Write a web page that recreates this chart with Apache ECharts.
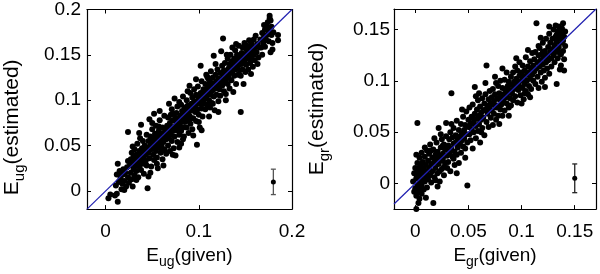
<!DOCTYPE html>
<html><head><meta charset="utf-8">
<script src="https://cdn.jsdelivr.net/npm/echarts@6/dist/echarts.min.js"></script>
<style>html,body{margin:0;padding:0;background:#fff}#c{width:600px;height:274px}</style>
</head><body><div id="c"></div>
<script>
// ---------- DATA ----------
const leftData = [
[0.003,-0.008],[0.005,-0.004],[0.010,-0.005],[0.013,-0.012],[0.012,-0.003],[0.011,0.006],[0.014,0.010],[0.013,0.030],[0.015,0.022],[0.016,0.014],[0.017,0.002],[0.018,0.008],[0.019,0.018],[0.020,0.011],[0.021,0.020],[0.022,0.005],[0.023,0.026],[0.024,0.015],[0.016,0.018],[0.019,0.024],[0.012,0.018],[0.020,0.001],[0.024,0.033],[0.025,0.009],
[0.026,0.028],[0.027,0.020],[0.027,0.035],[0.028,0.042],[0.028,0.013],[0.029,0.030],[0.029,0.005],[0.030,0.038],[0.030,0.024],[0.031,0.046],[0.031,0.017],[0.032,0.033],[0.032,0.028],[0.033,0.040],[0.033,0.022],[0.034,0.052],[0.034,0.031],[0.035,0.036],[0.035,0.015],[0.036,0.044],[0.036,0.027],[0.037,0.039],[0.037,0.058],[0.038,0.033],[0.038,0.023],[0.039,0.047],[0.039,0.041],[0.040,0.030],[0.040,0.055],[0.041,0.036],[0.041,0.019],[0.042,0.045],[0.042,0.050],[0.043,0.033],[0.043,0.040],[0.044,0.062],[0.044,0.028],[0.045,0.048],[0.045,0.003],[0.046,0.016],[0.024,0.065],[0.038,0.073],[0.033,0.012],[0.036,0.064],[0.029,0.049],
[0.046,0.055],[0.046,0.042],[0.047,0.079],[0.047,0.036],[0.048,0.050],[0.048,0.060],[0.049,0.046],[0.049,0.027],[0.050,0.053],[0.050,0.068],[0.051,0.040],[0.051,0.058],[0.052,0.049],[0.052,0.034],[0.053,0.063],[0.053,0.055],[0.054,0.044],[0.054,0.072],[0.055,0.051],[0.055,0.037],[0.056,0.060],[0.056,0.025],[0.057,0.066],[0.057,0.048],[0.058,0.055],[0.058,0.078],[0.059,0.042],[0.059,0.062],[0.060,0.058],[0.060,0.050],[0.061,0.070],[0.061,0.035],[0.062,0.064],[0.062,0.054],[0.063,0.046],[0.063,0.083],[0.064,0.060],[0.064,0.068],[0.065,0.041],[0.065,0.057],[0.050,0.075],[0.055,0.030],[0.058,0.088],[0.062,0.028],[0.048,0.020],[0.052,0.085],[0.060,0.044],[0.057,0.071],
[0.066,0.072],[0.066,0.063],[0.067,0.050],[0.067,0.081],[0.068,0.067],[0.068,0.058],[0.069,0.075],[0.069,0.044],[0.070,0.070],[0.070,0.062],[0.071,0.090],[0.071,0.055],[0.072,0.078],[0.072,0.066],[0.073,0.047],[0.073,0.085],[0.074,0.071],[0.074,0.060],[0.075,0.080],[0.075,0.039],[0.076,0.074],[0.076,0.067],[0.077,0.093],[0.077,0.054],[0.078,0.079],[0.078,0.071],[0.079,0.062],[0.079,0.098],[0.080,0.083],[0.080,0.075],[0.081,0.066],[0.081,0.052],[0.082,0.088],[0.082,0.079],[0.083,0.070],[0.083,0.104],[0.084,0.084],[0.084,0.060],[0.085,0.092],[0.085,0.076],[0.068,0.096],[0.074,0.102],[0.079,0.048],[0.083,0.057],[0.070,0.084],[0.076,0.086],[0.081,0.095],[0.072,0.040],
[0.086,0.088],[0.086,0.081],[0.087,0.070],[0.087,0.100],[0.088,0.086],[0.088,0.094],[0.089,0.077],[0.089,0.064],[0.090,0.092],[0.090,0.083],[0.091,0.108],[0.091,0.074],[0.092,0.096],[0.092,0.089],[0.093,0.068],[0.093,0.103],[0.094,0.092],[0.094,0.080],[0.095,0.099],[0.095,0.112],[0.096,0.087],[0.096,0.094],[0.097,0.077],[0.097,0.106],[0.098,0.098],[0.098,0.051],[0.099,0.090],[0.099,0.115],[0.100,0.102],[0.100,0.084],[0.101,0.096],[0.101,0.070],[0.102,0.108],[0.102,0.100],[0.103,0.091],[0.103,0.121],[0.104,0.104],[0.104,0.082],[0.105,0.112],[0.105,0.096],[0.088,0.110],[0.094,0.061],[0.097,0.123],[0.100,0.076],[0.090,0.116],[0.103,0.067],[0.092,0.080],[0.099,0.104],
[0.106,0.108],[0.106,0.101],[0.107,0.118],[0.107,0.090],[0.108,0.112],[0.108,0.104],[0.109,0.095],[0.109,0.126],[0.110,0.109],[0.110,0.117],[0.111,0.100],[0.111,0.082],[0.112,0.114],[0.112,0.121],[0.113,0.106],[0.113,0.132],[0.114,0.118],[0.114,0.097],[0.115,0.111],[0.115,0.125],[0.116,0.149],[0.116,0.104],[0.117,0.119],[0.117,0.089],[0.118,0.113],[0.118,0.128],[0.119,0.121],[0.119,0.106],[0.120,0.116],[0.120,0.134],[0.121,0.124],[0.121,0.099],[0.122,0.119],[0.122,0.112],[0.123,0.130],[0.123,0.105],[0.124,0.154],[0.124,0.122],[0.125,0.116],[0.125,0.138],[0.108,0.128],[0.112,0.092],[0.118,0.140],[0.121,0.087],[0.110,0.124],[0.115,0.096],[0.102,0.138],[0.126,0.168],
[0.126,0.127],[0.126,0.119],[0.127,0.133],[0.127,0.110],[0.128,0.126],[0.128,0.141],[0.129,0.107],[0.129,0.122],[0.130,0.132],[0.130,0.128],[0.131,0.118],[0.131,0.146],[0.132,0.135],[0.132,0.125],[0.133,0.140],[0.133,0.113],[0.134,0.130],[0.134,0.150],[0.135,0.137],[0.135,0.122],[0.136,0.143],[0.136,0.131],[0.137,0.109],[0.137,0.139],[0.138,0.146],[0.138,0.127],[0.139,0.134],[0.139,0.155],[0.140,0.141],[0.140,0.118],[0.141,0.136],[0.141,0.150],[0.142,0.128],[0.142,0.145],[0.143,0.139],[0.143,0.160],[0.144,0.133],[0.144,0.147],[0.145,0.127],[0.145,0.087],[0.130,0.150],[0.136,0.158],[0.140,0.162],[0.129,0.100],[0.145,0.142],
[0.146,0.152],[0.146,0.140],[0.147,0.158],[0.147,0.134],[0.148,0.118],[0.148,0.148],[0.149,0.143],[0.149,0.163],[0.150,0.150],[0.150,0.131],[0.151,0.156],[0.151,0.139],[0.152,0.146],[0.152,0.160],[0.153,0.134],[0.153,0.153],[0.154,0.148],[0.154,0.166],[0.155,0.141],[0.155,0.157],[0.156,0.150],[0.156,0.129],[0.157,0.162],[0.157,0.145],[0.158,0.155],[0.158,0.137],[0.159,0.167],[0.159,0.150],[0.160,0.158],[0.160,0.144],[0.161,0.171],[0.162,0.153],[0.163,0.162],[0.164,0.147],[0.165,0.158],[0.163,0.140],
[0.166,0.167],[0.167,0.158],[0.168,0.174],[0.168,0.150],[0.169,0.163],[0.170,0.170],[0.171,0.178],[0.171,0.159],[0.172,0.167],[0.173,0.181],[0.173,0.172],[0.174,0.186],[0.175,0.176],[0.175,0.165],[0.176,0.190],[0.177,0.188],[0.177,0.153],[0.178,0.181],[0.178,0.172],[0.179,0.163],[0.180,0.175],[0.185,0.172],[0.185,0.166],[0.176,0.193],[0.170,0.183],[0.179,0.156]
];
const rightData = [
[-0.002,0.002],[-0.001,0.010],[0.000,-0.005],[0.000,0.015],[0.001,0.005],[0.001,-0.012],[0.001,-0.025],[0.002,0.020],[0.002,-0.002],[0.002,0.059],[0.003,0.008],[0.003,-0.008],[0.003,0.013],[0.004,0.001],[0.004,-0.015],[0.004,0.025],[0.005,0.006],[0.005,-0.004],[0.005,0.017],[0.006,0.011],[0.006,-0.010],[0.006,0.030],[0.007,0.003],[0.007,0.021],[0.008,0.009],[0.008,-0.006],[0.008,0.014],[0.009,0.026],[0.009,0.002],[0.010,0.018],[0.010,0.007],[0.010,-0.014],[0.011,0.012],[0.011,0.032],[0.012,0.022],[0.012,0.004],[0.001,0.028],[-0.001,-0.008],[0.003,-0.019],[0.006,-0.002],[0.009,0.035],[0.007,0.014],[0.004,0.009],[0.011,-0.004],[0.002,0.014],
[0.013,0.015],[0.013,0.029],[0.014,0.008],[0.014,0.038],[0.015,0.019],[0.015,0.001],[0.016,0.025],[0.016,0.012],[0.017,-0.019],[0.017,0.033],[0.018,0.021],[0.018,0.006],[0.019,0.028],[0.019,0.015],[0.020,0.040],[0.020,0.024],[0.021,0.010],[0.021,0.031],[0.022,0.019],[0.022,0.054],[0.023,0.027],[0.023,0.002],[0.024,0.035],[0.024,0.022],[0.025,0.014],[0.025,0.043],[0.026,0.029],[0.026,0.024],[0.027,0.038],[0.027,0.008],[0.028,0.033],[0.028,0.020],[0.029,0.046],[0.029,0.059],[0.030,0.027],[0.030,0.015],[0.018,0.044],[0.024,0.048],[0.015,0.032],[0.021,-0.003],[0.027,0.016],[0.019,0.003],[0.023,0.012],[0.026,0.037],[0.029,0.033],
[0.031,0.037],[0.031,0.021],[0.032,0.043],[0.032,0.030],[0.033,0.012],[0.033,0.050],[0.034,0.088],[0.034,0.034],[0.035,0.026],[0.035,0.045],[0.036,0.039],[0.036,0.054],[0.037,0.031],[0.037,0.018],[0.038,0.047],[0.038,0.040],[0.039,0.061],[0.039,0.028],[0.040,0.043],[0.040,0.035],[0.041,0.052],[0.041,0.020],[0.042,0.046],[0.042,0.039],[0.043,0.058],[0.043,0.030],[0.044,0.049],[0.044,0.042],[0.045,0.036],[0.045,0.065],[0.046,0.052],[0.046,0.044],[0.047,0.025],[0.047,0.057],[0.048,0.048],[0.048,0.070],[0.049,-0.002],[0.049,0.040],[0.050,0.055],[0.050,0.062],[0.034,0.058],[0.039,0.010],[0.044,0.072],[0.036,0.024],[0.047,0.034],
[0.051,0.048],[0.051,0.074],[0.052,0.058],[0.052,0.042],[0.053,0.065],[0.053,0.053],[0.054,0.034],[0.054,0.077],[0.055,0.060],[0.055,0.050],[0.056,0.068],[0.056,0.094],[0.057,0.056],[0.057,0.044],[0.058,0.072],[0.058,0.063],[0.059,0.081],[0.059,0.051],[0.060,0.066],[0.060,0.058],[0.061,0.075],[0.061,0.040],[0.062,0.069],[0.062,0.062],[0.063,0.083],[0.063,0.054],[0.064,0.071],[0.064,0.064],[0.065,0.078],[0.065,0.047],[0.066,0.072],[0.066,0.087],[0.067,0.115],[0.067,0.060],[0.068,0.076],[0.068,0.068],[0.069,0.082],[0.069,0.055],[0.070,0.073],[0.070,0.090],[0.057,0.085],[0.062,0.050],[0.066,0.098],[0.054,0.064],[0.060,0.088],
[0.071,0.078],[0.071,0.064],[0.072,0.084],[0.072,0.071],[0.073,0.057],[0.073,0.092],[0.074,0.080],[0.074,0.068],[0.075,0.087],[0.075,0.104],[0.076,0.074],[0.076,0.062],[0.077,0.083],[0.077,0.076],[0.078,0.095],[0.078,0.066],[0.079,0.082],[0.079,0.088],[0.080,0.072],[0.080,0.100],[0.081,0.085],[0.081,0.077],[0.082,0.093],[0.082,0.066],[0.083,0.087],[0.083,0.080],[0.084,0.101],[0.084,0.071],[0.085,0.091],[0.085,0.084],[0.086,0.078],[0.086,0.108],[0.087,0.095],[0.087,0.088],[0.088,0.074],[0.088,0.099],[0.089,0.091],[0.089,0.083],[0.090,0.104],[0.090,0.076],[0.076,0.098],[0.082,0.112],[0.079,0.058],[0.088,0.066],[0.073,0.077],
[0.091,0.096],[0.091,0.088],[0.092,0.108],[0.092,0.081],[0.093,0.099],[0.093,0.092],[0.094,0.114],[0.094,0.085],[0.095,0.102],[0.095,0.095],[0.096,0.079],[0.096,0.110],[0.097,0.098],[0.097,0.091],[0.098,0.105],[0.098,0.118],[0.099,0.094],[0.099,0.086],[0.100,0.108],[0.100,0.100],[0.101,0.093],[0.101,0.115],[0.102,0.104],[0.102,0.082],[0.103,0.110],[0.103,0.097],[0.104,0.123],[0.104,0.090],[0.105,0.106],[0.105,0.100],[0.106,0.114],[0.106,0.087],[0.107,0.108],[0.107,0.095],[0.108,0.119],[0.108,0.102],[0.109,0.112],[0.109,0.092],[0.110,0.106],[0.110,0.127],[0.095,0.122],[0.100,0.078],[0.106,0.130],[0.103,0.088],[0.108,0.084],
[0.111,0.115],[0.111,0.100],[0.112,0.121],[0.112,0.109],[0.113,0.097],[0.113,0.128],[0.114,0.156],[0.114,0.112],[0.115,0.118],[0.115,0.104],[0.116,0.125],[0.116,0.093],[0.117,0.114],[0.117,0.132],[0.118,0.108],[0.118,0.120],[0.119,0.126],[0.119,0.099],[0.120,0.116],[0.120,0.137],[0.121,0.123],[0.121,0.110],[0.122,0.129],[0.122,0.103],[0.123,0.118],[0.123,0.141],[0.124,0.125],[0.124,0.112],[0.125,0.133],[0.125,0.120],[0.126,0.146],[0.126,0.107],[0.127,0.128],[0.127,0.137],[0.128,0.122],[0.128,0.114],[0.129,0.141],[0.129,0.131],[0.130,0.125],[0.130,0.150],[0.118,0.142],[0.122,0.094],[0.116,0.134],[0.126,0.153],[0.120,0.128],
[0.131,0.135],[0.131,0.118],[0.132,0.143],[0.132,0.128],[0.133,0.097],[0.133,0.138],[0.134,0.148],[0.134,0.122],[0.135,0.133],[0.135,0.153],[0.136,0.127],[0.136,0.141],[0.137,0.146],[0.137,0.115],[0.138,0.137],[0.138,0.151],[0.139,0.156],[0.139,0.129],[0.140,0.143],[0.140,0.121],[0.141,0.134],[0.141,0.148],[0.132,0.154],[0.136,0.111],[0.139,0.139],[0.134,0.131],[0.137,0.126],[0.140,0.110],[0.133,0.145]
];
// error bars: [x, y, half-length]
const leftErr = [0.18, 0.010, 0.014];
const rightErr = [0.15, 0.005, 0.014];
// axis ranges [min, max]
const leftXRange = [-0.02, 0.2], leftYRange = [-0.02, 0.2];
const rightXRange = [-0.02, 0.17], rightYRange = [-0.025, 0.17];
// tick labels
const leftXTicks = [0, 0.1, 0.2];
const leftYTicks = [0, 0.05, 0.1, 0.15, 0.2];
const rightXTicks = [0, 0.05, 0.1, 0.15];
const rightYTicks = [0, 0.05, 0.1, 0.15];
const names = {lx: ['E', 'ug', '(given)'], ly: ['E', 'ug', '(estimated)'], rx: ['E', 'gr', '(given)'], ry: ['E', 'gr', '(estimated)']};

// ---------- CHART ----------
const FONT = '"Liberation Sans", Arial, sans-serif';
const rich = {
  m: {fontSize: 19, fontFamily: FONT, color: '#000'},
  s: {fontSize: 14, fontFamily: FONT, color: '#000', padding: [13, 0, 0, 0]}
};
const richY = {
  m: {fontSize: 21, fontFamily: FONT, color: '#000'},
  s: {fontSize: 15, fontFamily: FONT, color: '#000', padding: [14, 0, 0, 0]}
};
function nm(a) { return '{m|' + a[0] + '}{s|' + a[1] + '}{m|' + a[2] + '}'; }
function fmt(v) { return String(+v.toFixed(3)); }

function axes(gi, xr, yr, xt, yt, xn, yn, xGap, yGap, yLabMargin, yNamePad) {
  const tick = {show: true, inside: true, length: 4, lineStyle: {color: '#000', width: 1}};
  const line = {show: true, onZero: false, lineStyle: {color: '#000', width: 1.2}};
  const x = [
    {type: 'value', gridIndex: gi, position: 'bottom', min: xr[0], max: xr[1],
     axisLine: line, axisTick: Object.assign({customValues: xt}, tick),
     axisLabel: {customValues: xt, formatter: fmt, fontSize: 19, fontFamily: FONT, color: '#000', margin: 13},
     splitLine: {show: false},
     name: nm(xn), nameLocation: 'middle', nameGap: xGap, nameTextStyle: {rich: rich}},
    {type: 'value', gridIndex: gi, position: 'top', min: xr[0], max: xr[1],
     axisLine: line, axisTick: Object.assign({customValues: xt}, tick),
     axisLabel: {show: false}, splitLine: {show: false}}
  ];
  const y = [
    {type: 'value', gridIndex: gi, position: 'left', min: yr[0], max: yr[1],
     axisLine: line, axisTick: Object.assign({customValues: yt}, tick),
     axisLabel: {customValues: yt, formatter: fmt, fontSize: 19, fontFamily: FONT, color: '#000', margin: yLabMargin},
     splitLine: {show: false},
     name: nm(yn), nameLocation: 'middle', nameGap: yGap, nameRotate: 90,
     nameTextStyle: {rich: richY, padding: yNamePad}},
    {type: 'value', gridIndex: gi, position: 'right', min: yr[0], max: yr[1],
     axisLine: line, axisTick: Object.assign({customValues: yt}, tick),
     axisLabel: {show: false}, splitLine: {show: false}}
  ];
  return {x, y};
}
const A = axes(0, leftXRange, leftYRange, leftXTicks, leftYTicks, names.lx, names.ly, 27, 60, 6, [0, 36, 0, 0]);
const B = axes(1, rightXRange, rightYRange, rightXTicks, rightYTicks, names.rx, names.ry, 27, 62, 4, [0, 0, 0, 0]);

function errSeries(xi, yi, e, col) {
  return [
    {type: 'line', xAxisIndex: xi, yAxisIndex: yi, data: [[e[0], e[1] - e[2]], [e[0], e[1] + e[2]]],
     lineStyle: {color: col, width: 1.3}, itemStyle: {color: col, opacity: 1}, symbol: 'rect', symbolSize: [5, 1.3], showSymbol: true,
     silent: true, z: 4},
    {type: 'scatter', xAxisIndex: xi, yAxisIndex: yi, data: [[e[0], e[1]]], symbolSize: 5,
     itemStyle: {color: '#000', opacity: 1}, silent: true, z: 5}
  ];
}
const option = {
  animation: false,
  backgroundColor: '#fff',
  grid: [
    {left: 87, top: 8, width: 205, height: 205},
    {left: 394, top: 9, width: 202, height: 203}
  ],
  xAxis: A.x.concat(B.x),
  yAxis: A.y.concat(B.y),
  series: [
    {type: 'scatter', xAxisIndex: 0, yAxisIndex: 0, data: leftData, symbolSize: 6, itemStyle: {color: '#000', opacity: 1}, z: 2},
    {type: 'line', xAxisIndex: 0, yAxisIndex: 0, data: [[leftXRange[0], leftXRange[0]], [leftXRange[1], leftXRange[1]]],
     symbol: 'none', lineStyle: {color: '#2020b0', width: 1.2}, z: 3, silent: true},
    ...errSeries(0, 0, leftErr, '#555'),
    {type: 'scatter', xAxisIndex: 2, yAxisIndex: 2, data: rightData, symbolSize: 6, itemStyle: {color: '#000', opacity: 1}, z: 2},
    {type: 'line', xAxisIndex: 2, yAxisIndex: 2, data: [[rightXRange[0], rightXRange[0]], [rightXRange[1], rightXRange[1]]],
     symbol: 'none', lineStyle: {color: '#2020b0', width: 1.2}, z: 3, silent: true},
    ...errSeries(2, 2, rightErr, '#222')
  ]
};
const chart = echarts.init(document.getElementById('c'), null, {renderer: 'canvas'});
chart.setOption(option);
</script>
</body></html>
